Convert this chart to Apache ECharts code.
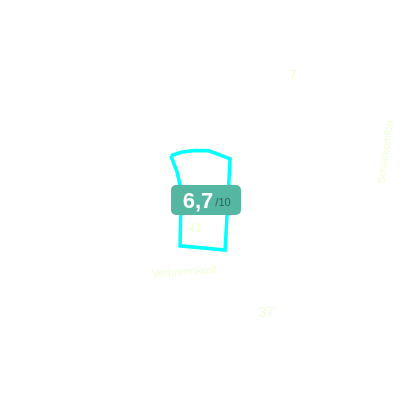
<!DOCTYPE html>
<html><head><meta charset="utf-8">
<style>html,body{margin:0;padding:0;background:#fff}#c{width:400px;height:400px}</style>
<script src="https://cdn.jsdelivr.net/npm/echarts@6/dist/echarts.min.js"></script>
</head><body><div id="c"></div>
<script>
// outline: [distance from centre, clockwise degrees from top]
const outlineRadius = [53, 51.3, 49.7, 50, 51, 56, 50, 21.5, 36];
const outlineAngle  = [326.6, 339.4, 354.2, 10.4, 36.2, 153.4, 203.5, 298, 320.6];
const ratingValue = '6,7';
const ratingScale = '/10';
const labelTexts = ['7', 'Schlafkomfort', 'Verbrennkost', '37', '41'];
const chart = echarts.init(document.getElementById('c'), null, {renderer:'canvas'});
const faint = '#f0ffd8';
function lbl(i, x, y, rot, size){
  return {type:'text', x, y, rotation: rot*Math.PI/180, z:5,
    style:{text:labelTexts[i], fill:faint, font:size+'px "Liberation Sans"', align:'center', verticalAlign:'middle'}};
}
chart.setOption({
  animation:false,
  polar:{center:[200,200], radius:100},
  angleAxis:{type:'value', min:0, max:360, startAngle:90, clockwise:true, show:false},
  radiusAxis:{type:'value', min:0, max:100, show:false},
  series:[{type:'line', coordinateSystem:'polar', showSymbol:false, symbol:'none',
    data: outlineRadius.map((r,i)=>[r, outlineAngle[i]]).concat([[outlineRadius[0], outlineAngle[0]]]),
    lineStyle:{color:'#00ffff', width:3.5, join:'miter'}, z:2}],
  graphic:[
    lbl(0,293,76,0,12), lbl(1,386,152,82,10.5), lbl(2,184,272,4,11), lbl(3,266,313,0,14), lbl(4,195,229,0,12),
    {type:'rect', shape:{x:171,y:185,width:70,height:30,r:5}, style:{fill:'#55b6a1'}, z:10},
    {type:'text', x:198, y:202, z:11, style:{text:ratingValue, fill:'#fff', font:'bold 22px "Liberation Sans"', align:'center', verticalAlign:'middle'}},
    {type:'text', x:223, y:203, z:11, style:{text:ratingScale, fill:'#2f5f57', font:'11px "Liberation Sans"', align:'center', verticalAlign:'middle'}}
  ]
});
</script></body></html>
